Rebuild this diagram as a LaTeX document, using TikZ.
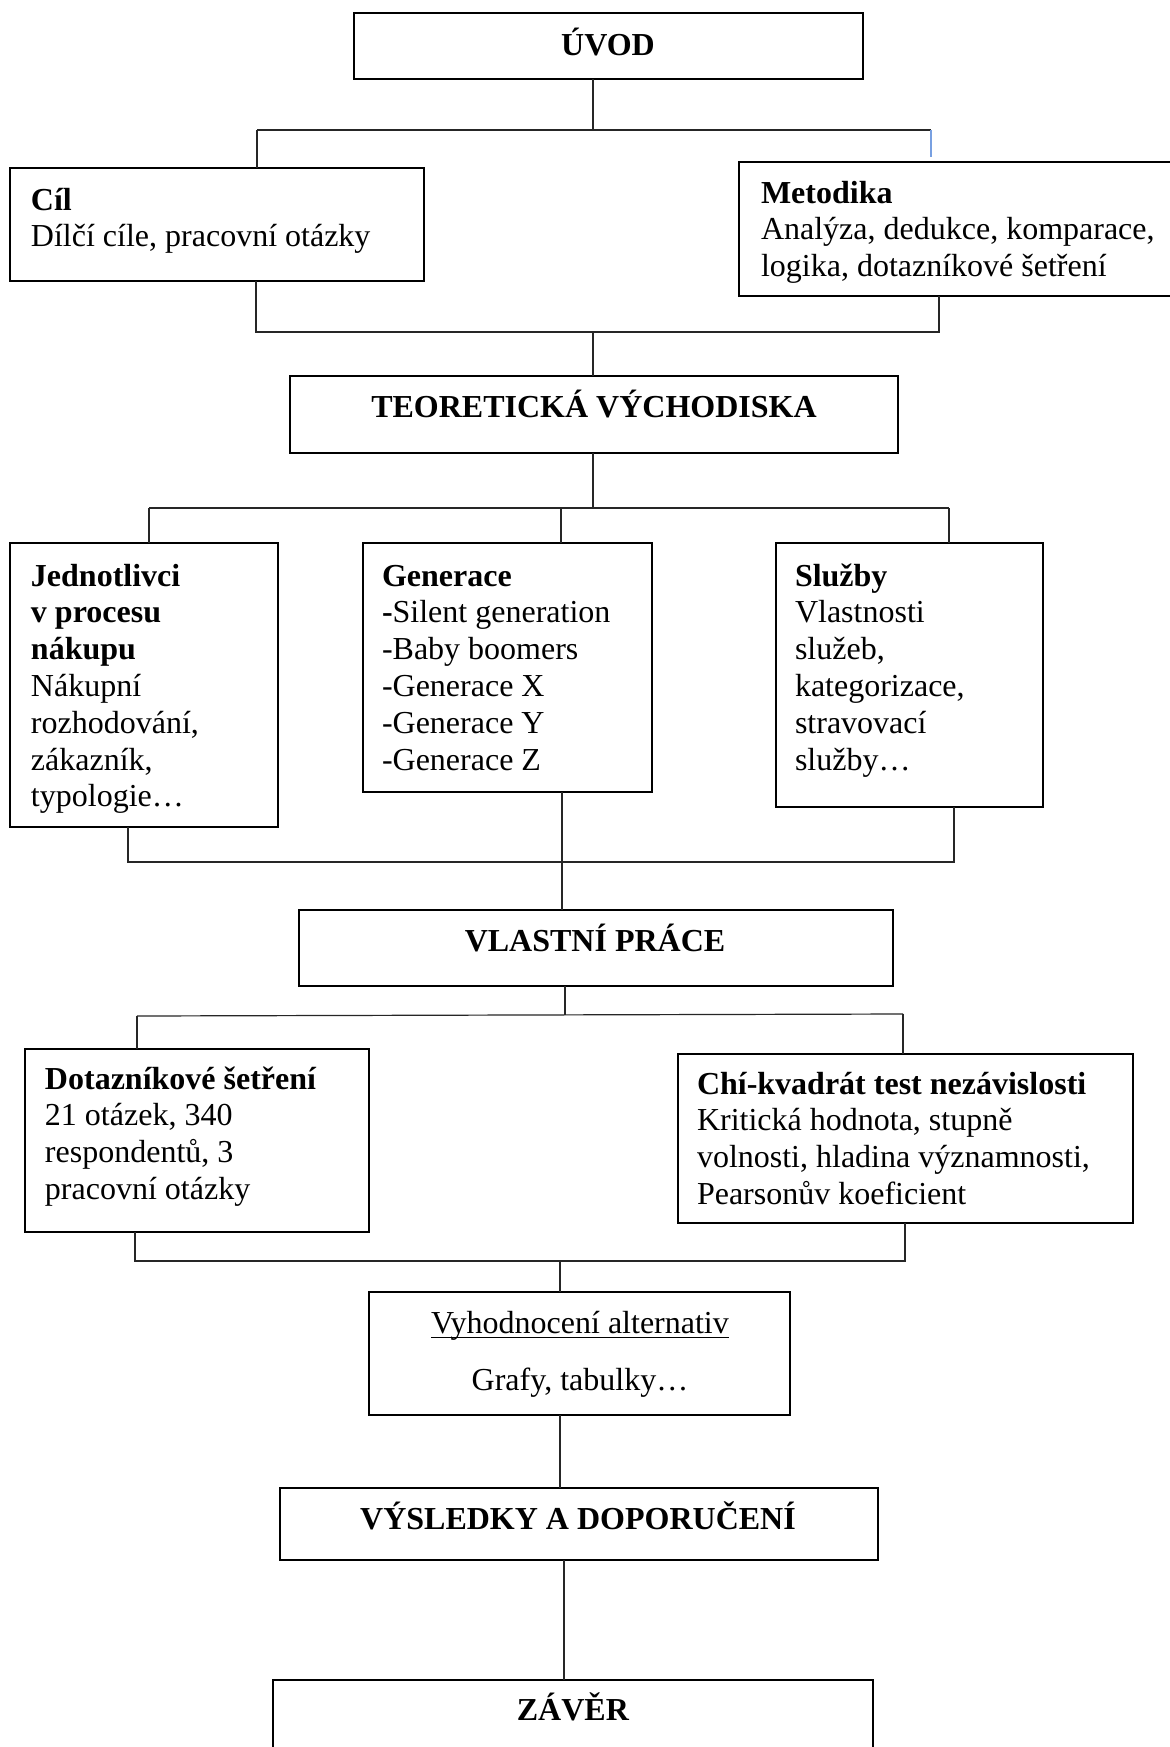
\documentclass[tikz,border=0pt]{standalone}
\usepackage{fontspec}
\setmainfont{Liberation Serif}
\usetikzlibrary{fit}
\newcommand{\boxlines}[1]{\begin{tabular}[t]{@{}l@{}}#1\end{tabular}}
\newcommand{\ctrlines}[1]{\begin{tabular}[t]{@{}c@{}}#1\end{tabular}}
\newcommand{\ulin}[1]{\setbox0\hbox{#1}\rlap{\rule[-2.6pt]{\wd0}{0.7pt}}\box0}
\definecolor{connblue}{RGB}{120,160,225}
\tikzset{
  box/.style={draw=black, line width=1.1pt, inner sep=0pt, outer sep=0pt},
  txt/.style={inner sep=0pt, outer sep=0pt, font=\fontsize{16pt}{18.4pt}\selectfont},
  conn/.style={draw=black!85, line width=0.6pt},
  blueconn/.style={draw=connblue, line width=0.7pt}
}
\begin{document}
\begin{tikzpicture}[x=0.5pt,y=-0.5pt]
\useasboundingbox (0,0) rectangle (1170,1747);
\clip (0,0) rectangle (1170,1747);
\fill[white] (0,0) rectangle (1170,1747);

% boxes
\node[box, fit={(354,13) (863,79)}] (uvod) {};
\node[box, fit={(10,168) (424,281)}] (cil) {};
\node[box, fit={(739,162) (1174,296)}] (metodika) {};
\node[box, fit={(290,376) (898,453)}] (teo) {};
\node[box, fit={(10,543) (278,827)}] (jedn) {};
\node[box, fit={(363,543) (652,792)}] (gen) {};
\node[box, fit={(776,543) (1043,807)}] (sluzby) {};
\node[box, fit={(299,910) (893,986)}] (vlastni) {};
\node[box, fit={(25,1049) (369,1232)}] (dot) {};
\node[box, fit={(678,1054) (1133,1223)}] (chi) {};
\node[box, fit={(369,1292) (790,1415)}] (vyh) {};
\node[box, fit={(280,1488) (878,1560)}] (vysl) {};
\node[box, fit={(273,1680) (873,1770)}] (zaver) {};

% texts
\node[txt, anchor=base] (uvod-t) at (608,55) {\textbf{ÚVOD}};
\node[txt, anchor=base west] (cil-t) at (31,210) {\boxlines{\textbf{Cíl}\\Dílčí cíle, pracovní otázky}};
\node[txt, anchor=base west] (metodika-t) at (761,203) {\boxlines{\textbf{Metodika}\\Analýza, dedukce, komparace,\\logika, dotazníkové šetření}};
\node[txt, anchor=base] (teo-t) at (594,417) {\textbf{TEORETICKÁ VÝCHODISKA}};
\node[txt, anchor=base west] (jedn-t) at (31,586) {\boxlines{\textbf{Jednotlivci}\\\textbf{v procesu}\\\textbf{nákupu}\\Nákupní\\rozhodování,\\zákazník,\\typologie…}};
\node[txt, anchor=base west] (gen-t) at (382,586) {\boxlines{\textbf{Generace}\\\textbf{-}Silent generation\\-Baby boomers\\-Generace X\\-Generace Y\\-Generace Z}};
\node[txt, anchor=base west] (sluzby-t) at (795,586) {\boxlines{\textbf{Služby}\\Vlastnosti\\služeb,\\kategorizace,\\stravovací\\služby…}};
\node[txt, anchor=base] (vlastni-t) at (595,951) {\textbf{VLASTNÍ PRÁCE}};
\node[txt, anchor=base west] (dot-t) at (45,1089) {\boxlines{\textbf{Dotazníkové šetření}\\21 otázek, 340\\respondentů, 3\\pracovní otázky}};
\node[txt, anchor=base west] (chi-t) at (697,1094) {\boxlines{\textbf{Chí-kvadrát test nezávislosti}\\Kritická hodnota, stupně\\volnosti, hladina významnosti,\\Pearsonův koeficient}};
\node[txt, anchor=base] (vyh-t) at (580,1333) {\ctrlines{\ulin{Vyhodnocení alternativ}\\[10.5pt]Grafy, tabulky…}};
\node[txt, anchor=base] (vysl-t) at (578,1529) {\textbf{VÝSLEDKY A DOPORUČENÍ}};
\node[txt, anchor=base] (zaver-t) at (573,1720) {\textbf{ZÁVĚR}};

% bus coordinates
\coordinate (b1c) at (593,130);
\coordinate (b1l) at (257,130);
\coordinate (b1r) at (931,130);
\coordinate (b1re) at (931,157);
\coordinate (b2l) at (256,332);
\coordinate (b2r) at (939,332);
\coordinate (b2c) at (593,332);
\coordinate (b3c) at (593,508);
\coordinate (b3l) at (149,508);
\coordinate (b3m) at (561,508);
\coordinate (b3r) at (949,508);
\coordinate (b4l) at (128,862);
\coordinate (b4r) at (954,862);
\coordinate (b4c) at (562,862);
\coordinate (b5c) at (565,1015);
\coordinate (b5l) at (137,1016);
\coordinate (b5r) at (903,1014);
\coordinate (b6l) at (135,1261);
\coordinate (b6r) at (905,1261);
\coordinate (b6c) at (560,1261);
\coordinate (b7) at (564,1620);

% connectors
\draw[conn] (uvod.south -| b1c) -- (b1c);
\draw[conn] (b1l) -- (b1r);
\draw[conn] (b1l) -- (cil.north -| b1l);
\draw[blueconn] (b1r) -- (b1re);

\draw[conn] (cil.south -| b2l) -- (b2l) -- (b2r) -- (metodika.south -| b2r);
\draw[conn] (b2c) -- (teo.north -| b2c);

\draw[conn] (teo.south -| b3c) -- (b3c);
\draw[conn] (b3l) -- (b3r);
\draw[conn] (b3l) -- (jedn.north -| b3l);
\draw[conn] (b3m) -- (gen.north -| b3m);
\draw[conn] (b3r) -- (sluzby.north -| b3r);

\draw[conn] (jedn.south -| b4l) -- (b4l) -- (b4r) -- (sluzby.south -| b4r);
\draw[conn] (gen.south -| b4c) -- (vlastni.north -| b4c);

\draw[conn] (vlastni.south -| b5c) -- (b5c);
\draw[conn] (b5l) -- (b5r);
\draw[conn] (b5l) -- (dot.north -| b5l);
\draw[conn] (b5r) -- (chi.north -| b5r);

\draw[conn] (dot.south -| b6l) -- (b6l) -- (b6r) -- (chi.south -| b6r);
\draw[conn] (b6c) -- (vyh.north -| b6c);
\draw[conn] (vyh.south -| b6c) -- (vysl.north -| b6c);
\draw[conn] (vysl.south -| b7) -- (zaver.north -| b7);
\end{tikzpicture}
\end{document}
